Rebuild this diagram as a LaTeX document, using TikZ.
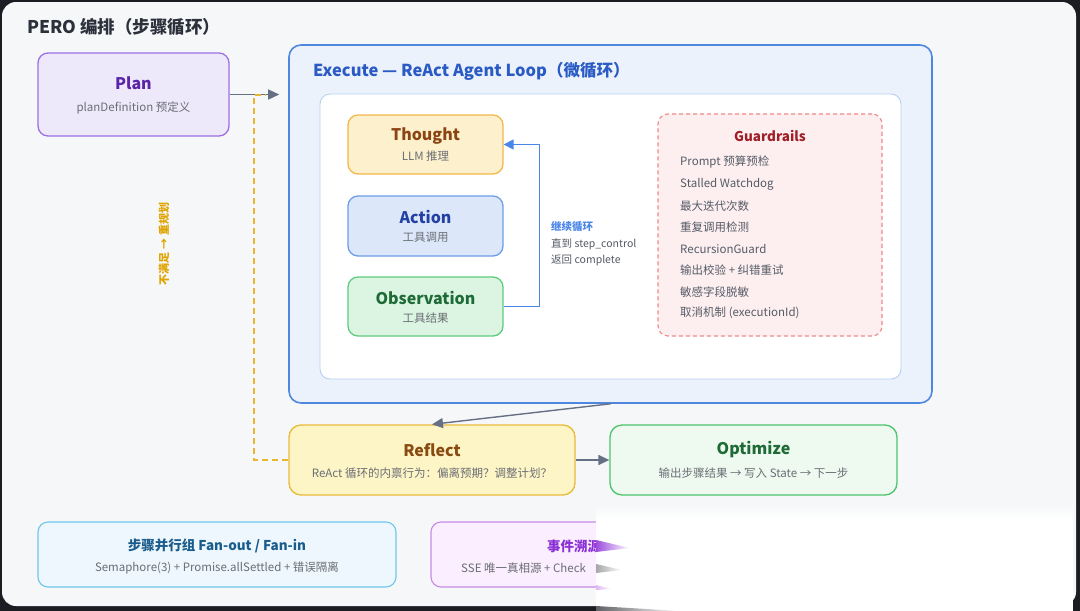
\documentclass[tikz,border=0pt]{standalone}
\usepackage{fontspec}
\setmainfont{Noto Sans CJK SC}
\usetikzlibrary{arrows.meta}
\definecolor{bgdark}{HTML}{1C1D22}
\definecolor{card}{HTML}{F6F7F9}
\definecolor{titlec}{HTML}{2B303B}
\definecolor{subc}{HTML}{6B6E75}
\definecolor{arrowc}{HTML}{667085}
\definecolor{planf}{HTML}{EEE8FB}\definecolor{pland}{HTML}{9D6FE3}\definecolor{plant}{HTML}{5B25A8}
\definecolor{execf}{HTML}{ECF2FC}\definecolor{execd}{HTML}{4F86DE}\definecolor{exect}{HTML}{2A5BC4}
\definecolor{innerd}{HTML}{B5D0F0}
\definecolor{thf}{HTML}{FDF0CC}\definecolor{thd}{HTML}{F2B84A}\definecolor{tht}{HTML}{8B4513}
\definecolor{acf}{HTML}{DCE8FA}\definecolor{acd}{HTML}{6D9DE6}\definecolor{act}{HTML}{2340A3}
\definecolor{obf}{HTML}{DCF5E3}\definecolor{obd}{HTML}{5FCB7D}\definecolor{obt}{HTML}{1F6B37}
\definecolor{loopc}{HTML}{4A86E8}
\definecolor{gf}{HTML}{FDEFF0}\definecolor{gd}{HTML}{EE8A8A}\definecolor{gt}{HTML}{A01E28}\definecolor{gi}{HTML}{555B66}
\definecolor{rff}{HTML}{FDF5C6}\definecolor{rfd}{HTML}{E9BA3C}\definecolor{rft}{HTML}{8A4B12}
\definecolor{opf}{HTML}{EEFAF0}\definecolor{opd}{HTML}{4CC46B}\definecolor{opt}{HTML}{1E6B36}
\definecolor{fbc}{HTML}{EAB52F}\definecolor{fbt}{HTML}{E0A400}
\definecolor{bbf}{HTML}{EDF7FD}\definecolor{bbd}{HTML}{6EC6EC}\definecolor{bbt}{HTML}{1A5C8C}
\definecolor{pbf}{HTML}{FBEEFE}\definecolor{pbd}{HTML}{C88AE8}\definecolor{pbt}{HTML}{8B2FD6}
\tikzset{
  box/.style={rounded corners=10, line width=1.3pt, inner sep=0},
  ttl/.style={font=\fontsize{16}{19}\selectfont\bfseries},
  sub/.style={font=\fontsize{11.5}{14}\selectfont, text=subc},
  gitem/.style={font=\fontsize{11.5}{14}\selectfont, text=gi, anchor=west, inner sep=0},
  flow/.style={draw=arrowc, line width=1.4pt, -{Triangle[length=11pt,width=10pt]}},
}
\begin{document}
\begin{tikzpicture}[x=1pt,y=-1pt]
\useasboundingbox (0,0) rectangle (1080,611);
\fill[bgdark] (0,0) rectangle (1080,611);
\fill[card, rounded corners=14] (2,2) rectangle (1076,606);

\node[anchor=west, inner sep=0, font=\fontsize{17.5}{21}\selectfont\bfseries, text=titlec] (title) at (27,27) {PERO 编排（步骤循环）};

% Plan
\node[box, fill=planf, draw=pland, minimum width=191, minimum height=83] (plan) at (133.5,94.5) {};
\node[ttl, text=plant] (planT) at (133.5,83) {Plan};
\node[sub] (planS) at (133.5,108) {planDefinition 预定义};

% Execute
\node[box, fill=execf, draw=execd, line width=1.6pt, rounded corners=12, minimum width=643, minimum height=358] (exec) at (610.5,224) {};
\node[anchor=west, inner sep=0, font=\fontsize{16.5}{19}\selectfont\bfseries, text=exect] (execT) at (313,71) {Execute — ReAct Agent Loop（微循环）};
\node[box, fill=white, draw=innerd, line width=0.9pt, minimum width=581, minimum height=285] (inner) at (610.5,236.5) {};

\node[box, fill=thf, draw=thd, minimum width=155, minimum height=59] (thought) at (425.5,144.5) {};
\node[ttl, text=tht] (thoughtT) at (425.5,136) {Thought};
\node[sub] (thoughtS) at (425.5,156) {LLM 推理};

\node[box, fill=acf, draw=acd, minimum width=155, minimum height=60] (action) at (425.5,226) {};
\node[ttl, text=act] (actionT) at (425.5,217) {Action};
\node[sub] (actionS) at (425.5,237) {工具调用};

\node[box, fill=obf, draw=obd, minimum width=155, minimum height=59] (obs) at (425.5,306.5) {};
\node[ttl, text=obt] (obsT) at (425.5,298) {Observation};
\node[sub] (obsS) at (425.5,318) {工具结果};

\draw[loopc, line width=1.5pt, -{Triangle[length=10pt,width=10pt]}] (obs.east) -- ++(36,0) |- (thought.east);
\node[anchor=west, inner sep=0, font=\fontsize{10.5}{12}\selectfont\bfseries, text=loopc] (loopA) at (551,227) {继续循环};
\node[anchor=west, inner sep=0, font=\fontsize{10.5}{12}\selectfont, text=gi] (loopB) at (551,244) {直到 step\_control};
\node[anchor=west, inner sep=0, font=\fontsize{10.5}{12}\selectfont, text=gi] (loopC) at (551,260) {返回 complete};

% Guardrails
\node[box, fill=gf, draw=gd, line width=1.1pt, dashed, dash pattern=on 4pt off 3pt, minimum width=224, minimum height=222] (guard) at (770,225) {};
\node[font=\fontsize{13.5}{16}\selectfont\bfseries, text=gt] (guardT) at (770,136) {Guardrails};
\node[gitem] (g1) at (680,162) {Prompt 预算预检};
\node[gitem] (g2) at (680,184) {Stalled Watchdog};
\node[gitem] (g3) at (680,206) {最大迭代次数};
\node[gitem] (g4) at (680,227) {重复调用检测};
\node[gitem] (g5) at (680,249) {RecursionGuard};
\node[gitem] (g6) at (680,270) {输出校验 + 纠错重试};
\node[gitem] (g7) at (680,292) {敏感字段脱敏};
\node[gitem] (g8) at (680,313) {取消机制 (executionId)};

% Reflect / Optimize
\node[box, fill=rff, draw=rfd, rounded corners=12, minimum width=286, minimum height=70] (reflect) at (432,460) {};
\node[ttl, text=rft] (reflectT) at (432,450) {Reflect};
\node[sub] (reflectS) at (432,473) {ReAct 循环的内禀行为：偏离预期？调整计划？};

\node[box, fill=opf, draw=opd, rounded corners=12, minimum width=287, minimum height=70] (optim) at (753.5,460) {};
\node[ttl, text=opt] (optimT) at (753.5,450) {Optimize};
\node[sub] (optimS) at (753.5,473) {输出步骤结果 → 写入 State → 下一步};

% connectors
\draw[flow, shorten >=9pt] (plan.east) -- (plan.east -| exec.west);
\draw[flow] (exec.south) -- (reflect.north);
\draw[flow] (reflect.east) -- (optim.west);
\coordinate (fbtop) at (254,95);
\coordinate (fbend) at (266,95);
\draw[fbc, line width=1.4pt, dash pattern=on 6pt off 4pt] (reflect.west) -| (fbtop) -- (fbend);
\node[rotate=90, font=\fontsize{11}{13}\selectfont\bfseries, text=fbt] (fblabel) at (164,244) {不满足 → 重规划};

% bottom boxes
\node[box, fill=bbf, draw=bbd, line width=1.1pt, minimum width=358, minimum height=65] (par) at (217,554.5) {};
\node[font=\fontsize{13.5}{16}\selectfont\bfseries, text=bbt] (parT) at (217,546) {步骤并行组 Fan-out / Fan-in};
\node[sub] (parS) at (217,568) {Semaphore(3) + Promise.allSettled + 错误隔离};

\node[box, fill=pbf, draw=pbd, line width=1.1pt, minimum width=358, minimum height=65] (evt) at (610,554.5) {};
\node[anchor=west, inner sep=0, font=\fontsize{13.5}{16}\selectfont\bfseries, text=pbt] (evtT) at (547,546) {事件溯源};
\node[anchor=west, inner sep=0, sub] (evtS) at (461,568) {SSE 唯一真相源 + Check};

% page-curl overlay
\shade[top color=card, bottom color=white] (596,503) rectangle (1073,520);
\fill[white] (596,520) rectangle (1073,611);
\shade[left color=pbt!85, right color=white] (596,540) -- (630,548) -- (596,552) -- cycle;
\shade[left color=gray!70, right color=white] (596,564) -- (622,570) -- (596,573) -- cycle;
\shade[left color=pbd!60, right color=white] (596,585) -- (612,589) -- (596,590) -- cycle;
\shade[left color=bgdark!70, right color=white] (596,606) -- (680,611) -- (596,611) -- cycle;
\end{tikzpicture}
\end{document}
